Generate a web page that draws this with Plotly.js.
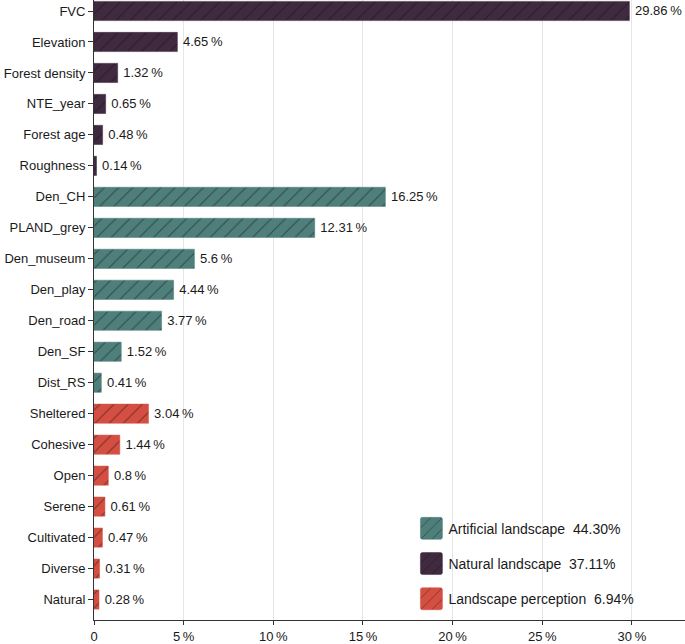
<!DOCTYPE html>
<html>
<head>
<meta charset="utf-8">
<script src="https://cdn.plot.ly/plotly-3.0.1.min.js"></script>
<style>
  html, body { margin: 0; padding: 0; background: #fff; }
  #chart { width: 685px; height: 644px; }
</style>
</head>
<body>
<div id="chart"></div>
<script>
// factor groups, top to bottom
var natural_names = ["FVC", "Elevation", "Forest density", "NTE_year", "Forest age", "Roughness"];
var natural_vals = [29.86, 4.65, 1.32, 0.65, 0.48, 0.14];

var artificial_names = ["Den_CH", "PLAND_grey", "Den_museum", "Den_play", "Den_road", "Den_SF", "Dist_RS"];
var artificial_vals = [16.25, 12.31, 5.6, 4.44, 3.77, 1.52, 0.41];

var perception_names = ["Sheltered", "Cohesive", "Open", "Serene", "Cultivated", "Diverse", "Natural"];
var perception_vals = [3.04, 1.44, 0.8, 0.61, 0.47, 0.31, 0.28];

var group_labels = ["Artificial landscape", "Natural landscape", "Landscape perception"];
var group_totals = ["44.30%", "37.11%", "6.94%"];

var x_ticks = [0, 5, 10, 15, 20, 25, 30];

var all_names = natural_names.concat(artificial_names, perception_names);

function pct(v) { return "\u2009" + v + "\u2009%"; }

function makeBar(names, vals, color, label, total) {
    return {
        type: 'bar',
        orientation: 'h',
        y: names,
        x: vals,
        name: label + "  " + total,
        legendgroup: label,
        text: vals.map(pct),
        textposition: 'outside',
        cliponaxis: false,
        textfont: {family: 'Liberation Sans, Arial, sans-serif', size: 13, color: '#1a1a1a'},
        width: 0.62,
        marker: {
            color: color,
            line: {color: color, width: 0.5},
            pattern: {shape: '/', fgcolor: '#111111', bgcolor: color, fillmode: 'overlay', size: 10, solidity: 0.1}
        },
        hoverinfo: 'y+x'
    };
}

var artificial = makeBar(artificial_names, artificial_vals, '#4e7f7b', group_labels[0], group_totals[0]);
var natural = makeBar(natural_names, natural_vals, '#3f2a3f', group_labels[1], group_totals[1]);
var perception = makeBar(perception_names, perception_vals, '#d44f42', group_labels[2], group_totals[2]);

var layout = {
    width: 685,
    height: 644,
    margin: {l: 94, r: 0, t: 0, b: 24},
    paper_bgcolor: '#ffffff',
    plot_bgcolor: '#ffffff',
    barmode: 'overlay',
    font: {family: 'Liberation Sans, Arial, sans-serif', size: 13, color: '#1a1a1a'},
    xaxis: {
        range: [0, 32.96],
        tickvals: x_ticks,
        ticktext: x_ticks.map(function(t) { return t === 0 ? "0" : t + "\u2009%"; }),
        showgrid: true,
        gridcolor: '#e6e6e6',
        gridwidth: 1,
        zeroline: false,
        showline: true,
        linecolor: '#333333',
        linewidth: 1,
        ticks: 'outside',
        ticklen: 4,
        tickcolor: '#333333',
        tickfont: {size: 13}
    },
    yaxis: {
        type: 'category',
        categoryorder: 'array',
        categoryarray: all_names,
        range: [19.66, -0.355],
        showgrid: false,
        zeroline: false,
        showline: true,
        linecolor: '#333333',
        linewidth: 1,
        ticks: 'outside',
        ticklen: 5,
        tickcolor: '#333333',
        tickfont: {size: 13}
    },
    showlegend: true,
    legend: {
        x: 0.532,
        y: 0.173,
        xanchor: 'left',
        yanchor: 'top',
        bgcolor: 'rgba(255,255,255,0)',
        font: {size: 14},
        traceorder: 'grouped',
        tracegroupgap: 14,
        itemwidth: 30
    }
};

// bigger legend swatches, like the original figure
function growSwatches() {
    document.querySelectorAll('#chart .legendpoints path').forEach(function(p) {
        var node = p;
        while (node && node.classList && !node.classList.contains('legend')) {
            node.removeAttribute('clip-path');
            if (node.style) node.style.clipPath = '';
            node = node.parentNode;
        }
        p.setAttribute('transform', 'translate(23,0)');
        p.setAttribute('d', 'M11,9Q11,11 9,11H-9Q-11,11 -11,9V-9Q-11,-11 -9,-11H9Q11,-11 11,-9Z');
    });
}

var gd = document.getElementById('chart');
Plotly.newPlot(gd, [artificial, natural, perception], layout, {displayModeBar: false}).then(function() {
    growSwatches();
    gd.on('plotly_afterplot', growSwatches);
});
</script>
</body>
</html>
